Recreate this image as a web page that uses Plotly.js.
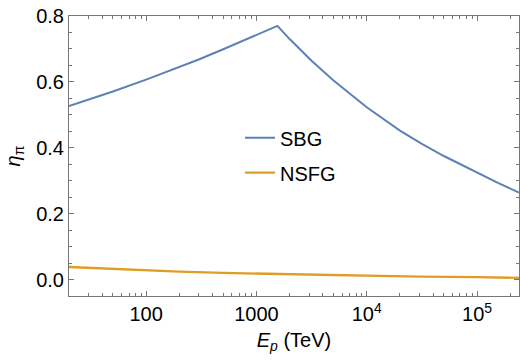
<!DOCTYPE html>
<html>
<head>
<meta charset="utf-8">
<script src="https://cdn.plot.ly/plotly-3.0.1.min.js"></script>
<style>html,body{margin:0;padding:0;background:#fff;}#chart{width:520px;height:364px;}</style>
</head>
<body>
<div id="chart"></div>
<script>
// Proton energy (TeV) and pion production efficiency
const sbgE   = [20, 30, 50, 100, 200, 300, 500, 700, 1000, 1550, 2000, 3160, 5000, 10000, 20000, 31600, 50000, 100000, 158000, 240000];
const sbgEta = [0.527, 0.546, 0.571, 0.607, 0.645, 0.668, 0.699, 0.720, 0.743, 0.770, 0.730, 0.664, 0.604, 0.523, 0.452, 0.412, 0.375, 0.324, 0.292, 0.264];

const nsfgE   = [20, 50, 100, 200, 500, 1000, 2000, 5000, 10000, 30000, 100000, 240000];
const nsfgEta = [0.038, 0.032, 0.028, 0.024, 0.020, 0.018, 0.016, 0.013, 0.011, 0.009, 0.007, 0.005];

const seriesNames = ["SBG", "NSFG"];
const xMajorVals = [100, 1000, 10000, 100000];
const xMajorText = ["100", "1000", "10<sup>4</sup>", "10<sup>5</sup>"];
const xMinorVals = [20,30,40,50,60,70,80,90,200,300,400,500,600,700,800,900,
  2000,3000,4000,5000,6000,7000,8000,9000,20000,30000,40000,50000,60000,70000,80000,90000,200000];
const yMajorVals = [0, 0.2, 0.4, 0.6, 0.8];

const font = "Liberation Sans, Arial, sans-serif";
const xr = [Math.log10(20), Math.log10(240000)];

const data = [
  {x: sbgE, y: sbgEta, name: seriesNames[0], type: "scatter", mode: "lines",
   line: {color: "#5E81B5", width: 2}, legendgroup: "a"},
  {x: nsfgE, y: nsfgEta, name: seriesNames[1], type: "scatter", mode: "lines",
   line: {color: "#E19C24", width: 2.3}, legendgroup: "b"},
  {x: [100], y: [0], xaxis: "x2", mode: "markers", marker: {opacity: 0}, showlegend: false, hoverinfo: "skip"}
];

const layout = {
  width: 520, height: 364,
  margin: {l: 69, r: 1, t: 16, b: 68},
  paper_bgcolor: "#fff", plot_bgcolor: "#fff",
  font: {family: font, size: 20, color: "#000"},
  showlegend: true,
  legend: {x: 0.38, y: 0.635, xanchor: "left", yanchor: "top", bgcolor: "rgba(0,0,0,0)",
           font: {family: font, size: 20, color: "#000"}, tracegroupgap: 6},
  xaxis: {
    type: "log", range: xr, showgrid: false, zeroline: false,
    showline: true, linecolor: "#777", linewidth: 1, mirror: "ticks",
    ticks: "inside", ticklen: 5, tickcolor: "#777",
    tickvals: xMajorVals, ticktext: xMajorText,
    tickfont: {family: font, size: 20, color: "#000"},
    title: {text: "<i>E</i><sub><i>p</i></sub> (TeV)", font: {family: font, size: 20, color: "#000"}, standoff: 8}
  },
  xaxis2: {
    type: "log", range: xr, overlaying: "x", side: "bottom", showgrid: false, zeroline: false,
    showline: false, mirror: "ticks", ticks: "inside", ticklen: 3, tickcolor: "#777",
    tickvals: xMinorVals, showticklabels: false
  },
  yaxis: {
    range: [-0.05, 0.8], showgrid: false, zeroline: false,
    showline: true, linecolor: "#777", linewidth: 1, mirror: "ticks",
    ticks: "inside", ticklen: 5, tickcolor: "#777",
    tickvals: yMajorVals, tickformat: ".1f",
    minor: {dtick: 0.05, ticks: "inside", ticklen: 3, tickcolor: "#777", showgrid: false},
    tickfont: {family: font, size: 20, color: "#000"},
    title: {text: "<i>η</i><sub>π</sub>", font: {family: font, size: 20, color: "#000"}, standoff: 10}
  }
};

Plotly.newPlot("chart", data, layout, {displayModeBar: false, staticPlot: true});
</script>
</body>
</html>
